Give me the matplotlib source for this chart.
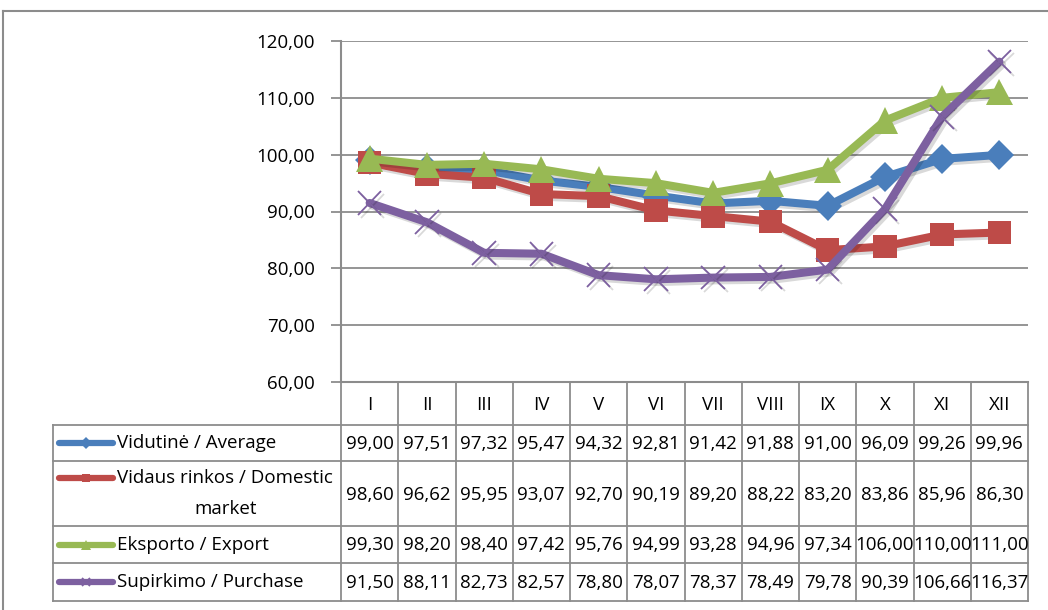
import matplotlib
matplotlib.use("Agg")
import matplotlib.pyplot as plt
import matplotlib.patheffects as pe
import numpy as np

plt.rcParams["font.family"] = ["Open Sans", "DejaVu Sans"]

months = ["I", "II", "III", "IV", "V", "VI", "VII", "VIII", "IX", "X", "XI", "XII"]
vidutine = [99.00, 97.51, 97.32, 95.47, 94.32, 92.81, 91.42, 91.88, 91.00, 96.09, 99.26, 99.96]
vidaus = [98.60, 96.62, 95.95, 93.07, 92.70, 90.19, 89.20, 88.22, 83.20, 83.86, 85.96, 86.30]
eksporto = [99.30, 98.20, 98.40, 97.42, 95.76, 94.99, 93.28, 94.96, 97.34, 106.00, 110.00, 111.00]
supirkimo = [91.50, 88.11, 82.73, 82.57, 78.80, 78.07, 78.37, 78.49, 79.78, 90.39, 106.66, 116.37]
labels = ["Vidutinė / Average", "Vidaus rinkos / Domestic\nmarket",
          "Eksporto / Export", "Supirkimo / Purchase"]
yticks = [60, 70, 80, 90, 100, 110, 120]

series = [
    (vidutine, dict(color="#4A7EBB", marker="D", ms=15, mew=0)),
    (vidaus, dict(color="#BE4B48", marker="s", ms=17, mew=0)),
    (eksporto, dict(color="#98B954", marker="^", ms=19, mew=0)),
    (supirkimo, dict(color="#7D60A0", marker="x", ms=17, mew=1.3)),
]

W, H = 1048, 610
FS = 13.5
fig = plt.figure(figsize=(W / 100, H / 100), dpi=100)

# plot area in pixels
x0, x1, ytop, ybot = 341, 1028, 41, 382
ax = fig.add_axes([x0 / W, 1 - ybot / H, (x1 - x0) / W, (ybot - ytop) / H])
n = len(months)
x = np.arange(n)
shadow = [pe.SimpleLineShadow(offset=(2, -2), alpha=0.15, shadow_color="k"), pe.Normal()]
for vals, st in series:
    ax.plot(x, vals, lw=5.8, color=st["color"], marker=st["marker"], ms=st["ms"],
            mew=st["mew"], mec=st["color"], mfc=st["color"], path_effects=shadow,
            solid_joinstyle="round", solid_capstyle="round", clip_on=False)
ax.set_xlim(-0.5, n - 0.5)
ax.set_ylim(60, 120)
ax.set_yticks(yticks)
ax.set_yticklabels([f"{v:.2f}".replace(".", ",") for v in yticks], fontsize=FS)
ax.set_xticks([])
ax.yaxis.grid(True, color="#8C8C8C", lw=1.3)
ax.set_axisbelow(True)
for s in ["top", "right"]:
    ax.spines[s].set_visible(False)
for s in ["left", "bottom"]:
    ax.spines[s].set_color("#8C8C8C")
    ax.spines[s].set_linewidth(1.5)
ax.tick_params(axis="y", length=7, width=1.3, color="#8C8C8C", pad=12)

# overlay in pixel coordinates for the data table and frame
ov = fig.add_axes([0, 0, 1, 1], zorder=-1)
ov.set_xlim(0, W)
ov.set_ylim(H, 0)
ov.axis("off")
ov2 = fig.add_axes([0, 0, 1, 1])
ov2.set_xlim(0, W)
ov2.set_ylim(H, 0)
ov2.axis("off")
ov2.patch.set_alpha(0)

# chart frame
ov.plot([3, W + 5], [11, 11], color="#8C8C8C", lw=1.5)
ov.plot([3, 3], [11, H + 5], color="#8C8C8C", lw=1.5)

gc = "#8C8C8C"
colw = (x1 - x0) / n
rows = [382, 425, 461, 526, 563, 601]
tleft = 53
for k in range(n + 1):
    ov2.plot([x0 + k * colw] * 2, [rows[0], rows[-1]], color=gc, lw=1.3)
for r in rows[1:]:
    ov2.plot([tleft, x1], [r, r], color=gc, lw=1.3)
ov2.plot([tleft, tleft], [rows[1], rows[-1]], color=gc, lw=1.3)
for k, m in enumerate(months):
    ov2.text(x0 + (k + 0.5) * colw, (rows[0] + rows[1]) / 2 + 1, m,
             ha="center", va="center", fontsize=FS)

for i, ((vals, st), lab) in enumerate(zip(series, labels)):
    yc = (rows[i + 1] + rows[i + 2]) / 2
    for k, v in enumerate(vals):
        ov2.text(x0 + (k + 0.5) * colw, yc + 1, f"{v:.2f}".replace(".", ","),
                 ha="center", va="center", fontsize=FS)
    ky = yc if "\n" not in lab else rows[i + 1] + 17
    ov2.plot([59, 113], [ky, ky], color=st["color"], lw=4.5, solid_capstyle="round")
    ov2.plot([86], [ky], color=st["color"], marker=st["marker"],
             ms=st["ms"] * 0.38, mew=st["mew"], mec=st["color"], mfc=st["color"])
    if "\n" in lab:
        l1, l2 = lab.split("\n")
        ov2.text(117, ky, l1, ha="left", va="center", fontsize=FS)
        ov2.text(226, ky + 31, l2, ha="center", va="center", fontsize=FS)
    else:
        ov2.text(117, ky, lab, ha="left", va="center", fontsize=FS)

fig.savefig("out.png", dpi=100)
